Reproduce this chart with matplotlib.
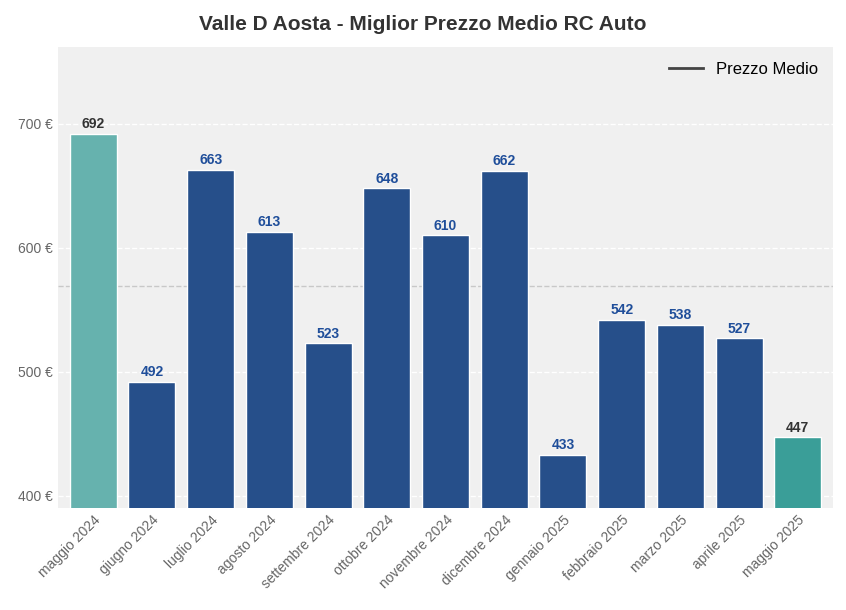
import matplotlib
matplotlib.use("Agg")
import matplotlib.pyplot as plt
from matplotlib.lines import Line2D

months = ["maggio 2024","giugno 2024","luglio 2024","agosto 2024","settembre 2024","ottobre 2024",
          "novembre 2024","dicembre 2024","gennaio 2025","febbraio 2025","marzo 2025","aprile 2025","maggio 2025"]
prices = [692,492,663,613,523,648,610,662,433,542,538,527,447]
mean_price = 569
yticks = [400,500,600,700]

plt.rcParams["font.family"] = "Liberation Sans"
fig = plt.figure(figsize=(8.46,6.10), dpi=100)
ax = fig.add_axes([58/846, 1-508/610, 775/846, 461/610])
ax.set_facecolor("#f0f0f0")
colors = ["#66b2ae"] + ["#264f8a"]*11 + ["#3a9e98"]
x = range(len(months))
ax.bar(x, prices, width=0.8, color=colors, edgecolor="white", linewidth=1, zorder=3)
for i,v in enumerate(prices):
    c = "#333333" if i in (0,len(prices)-1) else "#1f4e9a"
    ax.text(i, v+2, str(v), ha="center", va="bottom", fontsize=10, fontweight="bold", color=c, zorder=4)
ax.axhline(mean_price, color="#c8c8c8", ls="--", lw=1, zorder=2)
ax.set_ylim(390,762)
ax.set_xlim(-0.6, len(months)-0.4)
ax.set_yticks(yticks)
ax.set_yticklabels([f"{t} €" for t in yticks], color="#666666", fontsize=10)
ax.set_xticks(list(x))
ax.set_xticklabels(months, rotation=45, ha="right", rotation_mode="anchor", color="#666666", fontsize=10)
ax.yaxis.grid(True, color="white", ls="--", lw=1, zorder=0)
ax.tick_params(length=0)
for s in ax.spines.values(): s.set_visible(False)
ax.legend([Line2D([0],[0],color="#444444",lw=2)], ["Prezzo Medio"], loc="upper right",
          frameon=False, fontsize=12)
fig.suptitle("Valle D Aosta - Miglior Prezzo Medio RC Auto", y=0.975, fontsize=15, fontweight="bold", color="#333333")
fig.savefig("out.png", dpi=100, facecolor="white")
